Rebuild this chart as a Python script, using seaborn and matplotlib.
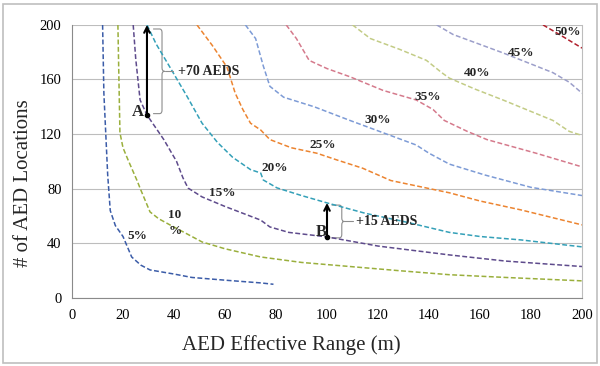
import matplotlib
matplotlib.use("Agg")
import matplotlib.pyplot as plt
import seaborn as sns
import pandas as pd
from matplotlib.patches import Rectangle, PathPatch
from matplotlib.path import Path

# ===================== 数据 =====================
X_05 = [12, 12.5, 14, 15, 17, 20, 23.4, 27, 30.6, 40, 47, 60, 74, 79]
Y_05 = [200, 150, 90, 64, 53, 45, 30, 24, 20.5, 17.5, 15, 13, 11, 10]

X_10 = [18, 18.4, 18.8, 20, 22, 25.5, 27, 30.6, 34, 38.4, 45, 51, 60, 74, 90, 109, 128, 148, 170, 200]
Y_10 = [200, 160, 121, 110, 101, 86, 79, 63, 58, 53.5, 47, 41, 36, 30, 26, 23, 20, 17, 15, 12.5]

X_15 = [24, 25, 26.7, 29.4, 36, 41, 43.5, 45.5, 51, 60, 74, 77.6, 85, 100, 120, 148, 170, 200]
Y_15 = [200, 175, 145, 134, 116, 100, 88, 80.5, 74, 67, 57, 52, 48, 44.7, 38, 31.5, 27, 23]

X_20 = [29.4, 33, 38.4, 45, 51, 57, 63, 70, 74, 75, 80.4, 90, 100, 115, 130, 148, 160, 176, 200]
Y_20 = [200, 186, 169, 148, 128, 114, 103, 94, 91.5, 86.4, 80.6, 75, 69.6, 62, 56, 48, 45, 42.5, 37.4]

X_25 = [49, 55, 60.8, 64, 67, 70, 74, 77.6, 86, 96, 104, 114, 125, 148, 160, 176, 200]
Y_25 = [200, 185, 169, 150, 138, 128, 123, 116, 110, 106, 101, 95, 86, 77, 71, 64.5, 53.5]

X_30 = [68, 72, 75, 77.6, 83, 95, 109, 122, 135, 140, 148, 162, 180, 200]
Y_30 = [200, 190, 170, 155, 147, 140, 130, 121, 112, 106, 98, 90, 81, 75]

X_35 = [84, 88, 93, 100, 109, 122, 135, 141.6, 146, 155, 162.7, 182, 200]
Y_35 = [200, 190, 174, 168, 162, 152, 145, 138, 130, 122, 116, 106, 96]

X_40 = [110, 117, 128.6, 139, 145, 148, 158, 169, 188.6, 195, 200]
Y_40 = [200, 190, 182, 174, 165, 161, 153, 145, 130, 122, 119]

X_45 = [143, 149.4, 169, 188.6, 195, 200]
Y_45 = [200, 193, 179.5, 165, 158, 150]

X_50 = [184.7, 192, 200]
Y_50 = [200, 192, 183]

LEVELS = ["5%", "10%", "15%", "20%", "25%", "30%", "35%", "40%", "45%", "50%"]
CURVES_X = [X_05, X_10, X_15, X_20, X_25, X_30, X_35, X_40, X_45, X_50]
CURVES_Y = [Y_05, Y_10, Y_15, Y_20, Y_25, Y_30, Y_35, Y_40, Y_45, Y_50]

# 曲线标签文字与位置
LABEL_TEXT = ["5%", "10\n%", "15%", "20%", "25%", "30%", "35%", "40%", "45%", "50%"]
LABEL_X = [25.5, 40.4, 59, 79.6, 98.4, 120, 139.6, 159, 176, 194.5]
LABEL_Y = [45, 55, 77, 95, 112, 130, 147, 165, 179.5, 195]

X_TICKS = list(range(0, 201, 20))
Y_TICKS = list(range(0, 201, 40))

# 标注点 A / B
POINT_A = (29.4, 134)
TOP_A = (29.4, 200)
POINT_B = (100, 44.7)
TOP_B = (100, 69.6)

COLORS = ["#3b5ca8", "#9aaf3c", "#5e4b8c", "#34a0b8", "#ec8430",
          "#7d9bd6", "#d57a8c", "#c3cc86", "#9c9fca", "#b0202c"]

rows = []
for lev, xs, ys in zip(LEVELS, CURVES_X, CURVES_Y):
    for i, (x, y) in enumerate(zip(xs, ys)):
        rows.append({"level": lev, "order": i, "range": x, "count": y})
df = pd.DataFrame(rows)

# ===================== 绘图 =====================
sns.set_theme(style="white")
plt.rcParams["font.family"] = ["Liberation Serif", "DejaVu Serif"]

fig = plt.figure(figsize=(6, 3.66), dpi=100)
ax = fig.add_axes([0.12, 0.186, 0.85, 0.746])

for lev, col in zip(LEVELS, COLORS):
    sub = df[df["level"] == lev]
    sns.lineplot(data=sub, x="range", y="count", ax=ax, color=col, sort=False,
                 estimator=None, linewidth=1.1, linestyle=(0, (3.2, 1.6)), legend=False)

for t, x, y in zip(LABEL_TEXT, LABEL_X, LABEL_Y):
    ax.text(x, y, t, fontsize=9.5, fontweight="bold", ha="center", va="center",
            linespacing=1.4)

# 箭头 + 点
for base, top, name, lx, ly in [(POINT_A, TOP_A, "A", 26, 136), (POINT_B, TOP_B, "B", 97.6, 48)]:
    ax.annotate("", xy=top, xytext=base,
                arrowprops=dict(arrowstyle="->", color="black", lw=1.5,
                                shrinkA=0, shrinkB=0, mutation_scale=10))
    ax.plot([base[0]], [base[1]], "o", color="black", markersize=3)
    ax.text(lx, ly, name, fontsize=12, fontweight="bold", ha="center", va="center")


def draw_brace(x0, x1, y_top, y_bot, tip_x, text, tx):
    # 圆角的右花括号
    mid = (y_top + y_bot) / 2
    rx, ry = 1.0, 2.5
    verts = [(x0, y_top), (x1 - rx, y_top), (x1, y_top), (x1, y_top - ry),
             (x1, mid + ry), (x1, mid), (x1 + rx, mid),
             (x1, mid), (x1, mid - ry),
             (x1, y_bot + ry), (x1, y_bot), (x1 - rx, y_bot), (x0, y_bot)]
    codes = [Path.MOVETO, Path.LINETO, Path.CURVE3, Path.CURVE3,
             Path.LINETO, Path.CURVE3, Path.CURVE3,
             Path.CURVE3, Path.CURVE3,
             Path.LINETO, Path.CURVE3, Path.CURVE3, Path.LINETO]
    ax.add_patch(PathPatch(Path(verts, codes), fill=False, edgecolor="#8c8c8c", lw=0.8))
    ax.plot([x1 + rx, tip_x], [mid, mid], color="#8c8c8c", lw=0.8)
    ax.text(tx, mid, text, fontsize=10, fontweight="bold", ha="left", va="center")


draw_brace(31.8, 35.3, 197, 135, 39.8, "+70 AEDS", 41.5)
draw_brace(101.8, 105.8, 68, 44, 110.3, "+15 AEDS", 111.5)

ax.set_xlim(0, 200)
ax.set_ylim(0, 200)
ax.set_xticks(X_TICKS)
ax.set_yticks(Y_TICKS)
ax.tick_params(axis="both", labelsize=10.5, colors="#8a8a8a", length=4,
               direction="out", labelcolor="black", width=0.8)
ax.tick_params(axis="x", pad=4)
ax.grid(axis="y", color="#bdbdbd", lw=0.8)
ax.grid(axis="x", visible=False)
for s in ["left", "bottom"]:
    ax.spines[s].set_color("#8a8a8a")
    ax.spines[s].set_linewidth(0.8)
ax.spines["right"].set_color("#bdbdbd")
ax.spines["right"].set_linewidth(0.8)
ax.spines["top"].set_visible(False)

ax.set_xlabel("AED Effective Range (m)", fontsize=15)
ax.set_ylabel("# of AED Locations", fontsize=15)
ax.xaxis.set_label_coords(0.43, -0.135)
ax.yaxis.set_label_coords(-0.077, 0.42)

# 外框
fig.patches.append(Rectangle((3 / 600, 3 / 366), 594 / 600, 359 / 366,
                             transform=fig.transFigure, fill=False,
                             edgecolor="#bfbfbf", lw=1.2))

fig.savefig("out.png", dpi=100)
